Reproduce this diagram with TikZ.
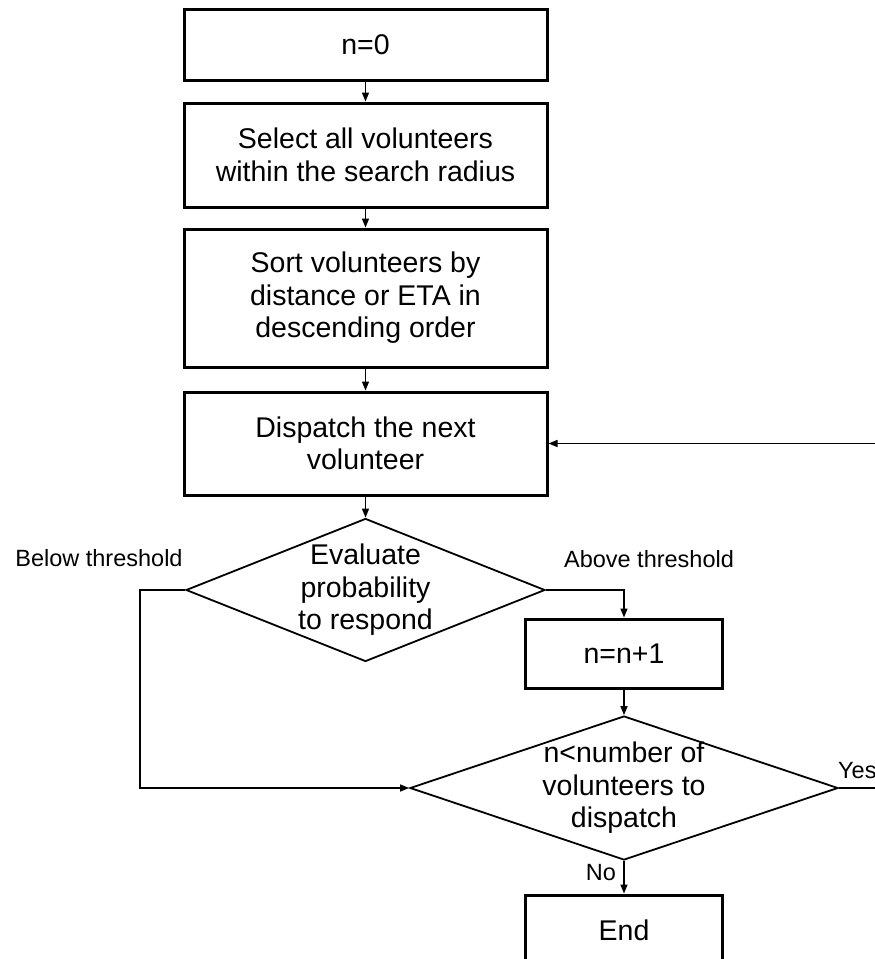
\documentclass[tikz,border=0pt]{standalone}
\usepackage{fontspec}
\setmainfont{Liberation Sans}
\usetikzlibrary{shapes.geometric,arrows.meta}
\begin{document}
\begin{tikzpicture}[x=1pt,y=-1pt,
  procbox/.style={draw, line width=3pt, minimum width=363pt, inner sep=0pt,
    align=center, font=\fontsize{28.5}{32.5}\selectfont},
  decision/.style={diamond, draw, line width=1.8pt, inner sep=0pt},
  dtext/.style={align=center, inner sep=0pt, font=\fontsize{28.5}{32.5}\selectfont},
  flow/.style={line width=1.5pt, -{Triangle[length=9pt,width=7pt]}},
  lbl/.style={inner sep=0pt, font=\fontsize{23.5}{27}\selectfont}]
\useasboundingbox (0,0) rectangle (875,959);
\clip (0,0) rectangle (875,959);

% process steps
\node[procbox, minimum height=71pt]  (init)     at (365.5,44.5) {n=0};
\node[procbox, minimum height=104pt] (select)   at (365.5,155)  {Select all volunteers\\within the search radius};
\node[procbox, minimum height=138pt] (sort)     at (365.5,298)  {Sort volunteers by\\distance or ETA in\\descending order};
\node[procbox, minimum height=103pt] (dispatch) at (365.5,443.5){Dispatch the next\\volunteer};

% first decision
\node[decision, minimum width=359pt, minimum height=143pt] (eval) at (365.5,590) {};
\node[dtext] (evaltext) at (eval) {Evaluate\\probability\\to respond};

\node[procbox, minimum width=197pt, minimum height=69pt] (incr) at (624,653.5) {n=n+1};

% second decision
\node[decision, minimum width=428pt, minimum height=144pt] (check) at (624,788) {};
\node[dtext] (checktext) at (check) {n<number of\\volunteers to\\dispatch};

\node[procbox, minimum width=197pt, minimum height=70pt] (finish) at (624,930) {End};

% connectors
\draw[flow] (init.south) -- (select.north);
\draw[flow] (select.south) -- (sort.north);
\draw[flow] (sort.south) -- (dispatch.north);
\draw[flow] (dispatch.south) -- (eval.north);
\draw[flow] (eval.east) -| (incr.north);
\draw[flow] (eval.west) -- ++(-45,0) |- (check.west);
\draw[flow] (incr.south) -- (check.north);
\draw[flow] (check.south) -- (finish.north);
\draw[flow] (check.east) -- ++(52,0) |- (dispatch.east);

% branch labels
\node[lbl] (below) at (99,558) {Below threshold};
\node[lbl] (above) at (649,559) {Above threshold};
\node[lbl, anchor=west] (yes) at (838,771) {Yes};
\node[lbl] (no) at (601,873) {No};
\end{tikzpicture}
\end{document}
